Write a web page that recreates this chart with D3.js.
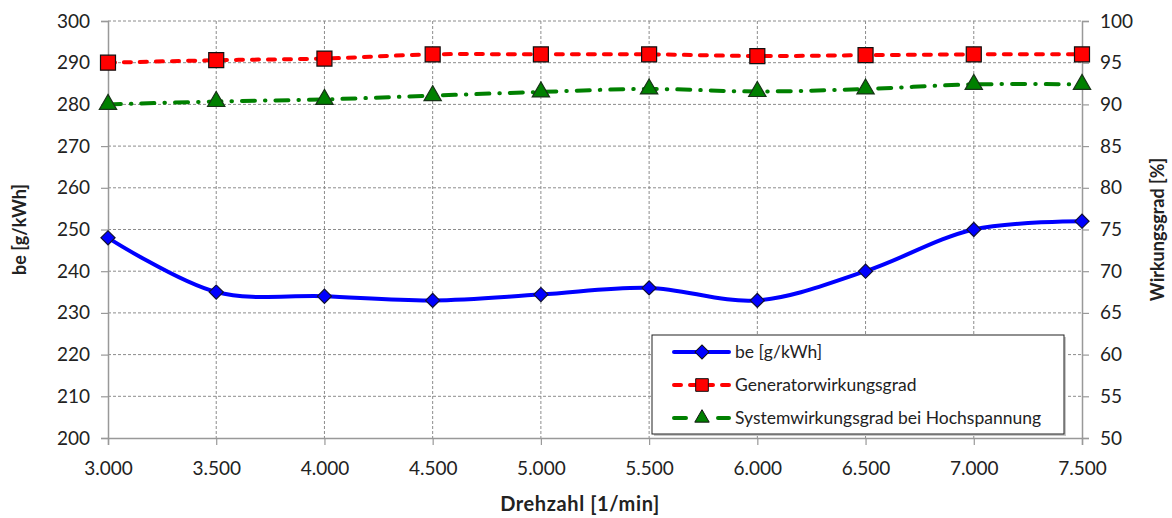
<!DOCTYPE html>
<html>
<head>
<meta charset="utf-8">
<script src="https://cdn.jsdelivr.net/npm/d3@7"></script>
<style>
  body { margin: 0; background: #fff; }
  text { font-family: Lato, "Open Sans", sans-serif; fill: #222; }
</style>
</head>
<body>
<script>
// Data
var drehzahl = [3000, 3500, 4000, 4500, 5000, 5500, 6000, 6500, 7000, 7500];
var be = [248, 235, 234, 233, 234.4, 236, 233, 240, 250, 252];
var generator = [95.0, 95.3, 95.5, 96.0, 96.0, 96.0, 95.8, 95.9, 96.0, 96.0];
var system = [90.0, 90.35, 90.6, 91.05, 91.5, 91.85, 91.55, 91.85, 92.4, 92.4];

var xTicks = d3.range(3000, 7501, 500);
var yLeftTicks = d3.range(200, 301, 10);
var yRightTicks = d3.range(50, 101, 5);
var seriesNames = ["be [g/kWh]", "Generatorwirkungsgrad", "Systemwirkungsgrad bei Hochspannung"];

var svgWidth = 1172;
var svgHeight = 518;
var margin = { top: 21, right: 90, bottom: 80, left: 108 };
var chartWidth = svgWidth - margin.left - margin.right;
var chartHeight = svgHeight - margin.top - margin.bottom;

var svg = d3.select("body").append("svg")
  .attr("width", svgWidth)
  .attr("height", svgHeight);

var g = svg.append("g")
  .attr("transform", `translate(${margin.left}, ${margin.top})`);

var xScale = d3.scaleLinear().domain([3000, 7500]).range([0, chartWidth]);
var yLeft = d3.scaleLinear().domain([200, 300]).range([chartHeight, 0]);
var yRight = d3.scaleLinear().domain([50, 100]).range([chartHeight, 0]);

// gridlines
g.append("g").selectAll("line").data(yLeftTicks.slice(1)).enter().append("line")
  .attr("x1", 0).attr("x2", chartWidth)
  .attr("y1", d => yLeft(d)).attr("y2", d => yLeft(d))
  .attr("stroke", "#8c8c8c").attr("stroke-width", 1).attr("stroke-dasharray", "3,2");
g.append("g").selectAll("line").data(xTicks.slice(1, -1)).enter().append("line")
  .attr("x1", d => xScale(d)).attr("x2", d => xScale(d))
  .attr("y1", 0).attr("y2", chartHeight)
  .attr("stroke", "#8c8c8c").attr("stroke-width", 1).attr("stroke-dasharray", "3,2");

// axes
var fmt = d3.formatLocale({ decimal: ",", thousands: ".", grouping: [3], currency: ["", "€"] }).format(",.0f");
var bottomAxis = d3.axisBottom(xScale).tickValues(xTicks).tickFormat(fmt).tickSizeOuter(0).tickSize(7).tickPadding(17);
var leftAxis = d3.axisLeft(yLeft).tickValues(yLeftTicks).tickSizeOuter(0).tickSize(7).tickPadding(11);
var rightAxis = d3.axisRight(yRight).tickValues(yRightTicks).tickSizeOuter(0).tickSize(7).tickPadding(11);

function styleAxis(sel) {
  sel.select(".domain").attr("stroke", "#999").attr("stroke-width", 1.5);
  sel.selectAll(".tick line").attr("stroke", "#999").attr("stroke-width", 1.2);
  sel.selectAll(".tick text").attr("font-size", "19px").attr("fill", "#222")
    .style("font-family", "Lato, sans-serif");
}
g.append("g").attr("transform", `translate(0, ${chartHeight})`).call(bottomAxis).call(styleAxis);
g.append("g").call(leftAxis).call(styleAxis);
g.append("g").attr("transform", `translate(${chartWidth}, 0)`).call(rightAxis).call(styleAxis);

// axis titles
svg.append("text")
  .attr("transform", "translate(580, 511)")
  .attr("text-anchor", "middle").attr("font-size", "20px").attr("font-weight", "bold")
  .attr("letter-spacing", "0.6px")
  .text("Drehzahl [1/min]");
svg.append("text")
  .attr("transform", `translate(26, ${margin.top + chartHeight / 2}) rotate(-90)`)
  .attr("text-anchor", "middle").attr("font-size", "18px").attr("font-weight", "bold")
  .text("be [g/kWh]");
svg.append("text")
  .attr("transform", `translate(1164, ${margin.top + chartHeight / 2}) rotate(-90)`)
  .attr("text-anchor", "middle").attr("font-size", "18px").attr("font-weight", "bold")
  .text("Wirkungsgrad [%]");

var curve = d3.curveCatmullRom.alpha(0.5);

// series lines
var lineBe = d3.line().curve(curve).x((d, i) => xScale(drehzahl[i])).y(d => yLeft(d));
var lineEff = d3.line().curve(curve).x((d, i) => xScale(drehzahl[i])).y(d => yRight(d));

g.append("path").datum(generator).attr("d", lineEff)
  .attr("fill", "none").attr("stroke", "#ff0000").attr("stroke-width", 4)
  .attr("stroke-linecap", "round").attr("stroke-dasharray", "7,9");
g.append("path").datum(system).attr("d", lineEff)
  .attr("fill", "none").attr("stroke", "#008000").attr("stroke-width", 4)
  .attr("stroke-linecap", "round").attr("stroke-dasharray", "13,10,0.5,10");
g.append("path").datum(be).attr("d", lineBe)
  .attr("fill", "none").attr("stroke", "#0000ff").attr("stroke-width", 4);

// markers
var diamond = d3.symbol().type(d3.symbolSquare).size(100);
var square = d3.symbol().type(d3.symbolSquare).size(225);
var triangle = d3.symbol().type(d3.symbolTriangle).size(130);

g.append("g").selectAll("path").data(generator).enter().append("path")
  .attr("d", square)
  .attr("transform", (d, i) => `translate(${xScale(drehzahl[i])}, ${yRight(d)})`)
  .attr("fill", "#ff0000").attr("stroke", "#111").attr("stroke-width", 1.2);
g.append("g").selectAll("path").data(system).enter().append("path")
  .attr("d", triangle)
  .attr("transform", (d, i) => `translate(${xScale(drehzahl[i])}, ${yRight(d)})`)
  .attr("fill", "#008000").attr("stroke", "#173317").attr("stroke-width", 1.2);
g.append("g").selectAll("path").data(be).enter().append("path")
  .attr("d", diamond)
  .attr("transform", (d, i) => `translate(${xScale(drehzahl[i])}, ${yLeft(d)}) rotate(45)`)
  .attr("fill", "#0000ff").attr("stroke", "#111133").attr("stroke-width", 1.2);

// legend
var legend = svg.append("g").attr("transform", "translate(652, 335)");
legend.append("rect").attr("x", 2).attr("y", 2).attr("width", 412).attr("height", 99).attr("fill", "#c8c8c8");
legend.append("rect").attr("width", 412).attr("height", 99)
  .attr("fill", "#fff").attr("stroke", "#222").attr("stroke-width", 1);

var rows = [17, 50, 83];
var colors = ["#0000ff", "#ff0000", "#008000"];
var dashes = [null, "7,9", "12,32"];
rows.forEach(function(ry, i) {
  legend.append("line").attr("x1", 22).attr("x2", 77).attr("y1", ry).attr("y2", ry)
    .attr("stroke", colors[i]).attr("stroke-width", 4).attr("stroke-linecap", "round")
    .attr("stroke-dasharray", dashes[i]);
  var sym = [diamond, square, triangle][i];
  legend.append("path").attr("d", i === 2 ? d3.symbol().type(d3.symbolTriangle).size(90) : (i === 1 ? d3.symbol().type(d3.symbolSquare).size(160) : sym))
    .attr("transform", `translate(50, ${ry}) rotate(${i === 0 ? 45 : 0})`)
    .attr("fill", colors[i]).attr("stroke", "#111").attr("stroke-width", 1);
  legend.append("text").attr("x", 83).attr("y", ry + 6).attr("font-size", "17.5px")
    .text(seriesNames[i]);
});
</script>
</body>
</html>
